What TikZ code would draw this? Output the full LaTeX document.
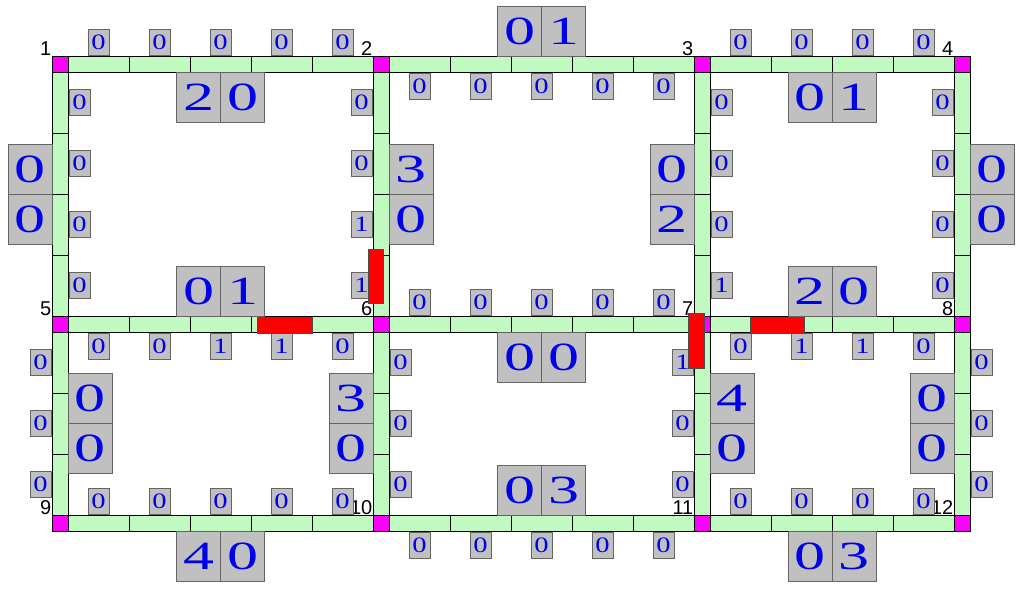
\documentclass[tikz,border=0pt]{standalone}
\usepackage{fontspec}
\usetikzlibrary{positioning}
\newfontfamily\bigdigits[FakeStretch=1.55]{Liberation Serif}
\newfontfamily\smalldigits[FakeStretch=1.3]{Liberation Serif}
\newfontfamily\numfont{Liberation Sans}
\definecolor{edgegreen}{RGB}{192,250,192}
\definecolor{cornermag}{RGB}{255,0,255}
\definecolor{boxgray}{RGB}{192,192,192}
\definecolor{boxedge}{RGB}{100,100,100}
\definecolor{digitblue}{RGB}{0,0,235}
\definecolor{agentred}{RGB}{255,0,0}
\begin{document}
\begin{tikzpicture}[x=1pt,y=-1pt]

    \tikzset{
      corner/.style={
        draw=black,
        fill=cornermag,
        line width=0.5pt,
        minimum size=16pt,
        inner sep=0pt,
        outer sep=0pt,
        label distance=0pt,
      },
      hseg/.style={
        draw=black,
        fill=edgegreen,
        line width=0.8pt,
        minimum width=61pt,
        minimum height=16pt,
        inner sep=0pt,
        outer sep=0pt,
      },
      vseg/.style={
        hseg,
        minimum width=16pt,
        minimum height=61pt,
      },
      lbl/.style={
        draw=boxedge,
        fill=boxgray,
        minimum width=21pt,
        minimum height=26pt,
        inner sep=0pt,
        outer sep=0pt,
        text=digitblue,
        font=\smalldigits\fontsize{22}{22}\selectfont,
      },
      big/.style={
        draw=boxedge,
        fill=boxgray,
        line width=0.8pt,
        minimum width=44pt,
        minimum height=50pt,
        inner sep=0pt,
        outer sep=0pt,
        text=digitblue,
        font=\bigdigits\fontsize{40}{40}\selectfont,
      },
      num/.style={
        font=\numfont\fontsize{20}{20}\selectfont,
        inner sep=0.5pt,
      },
      agent/.style={
        draw=black!70,
        fill=agentred,
        inner sep=0pt,
        outer sep=0pt,
      },
    }
    \useasboundingbox (0,0) rectangle (1023,589);

	\node[corner, label={[num]north west:1}] (n1) at (60,64) {};
	\node[corner, label={[num]north west:2}] (n2) at (381,64) {};
	\node[corner, label={[num]north west:3}] (n3) at (702,64) {};
	\node[corner, label={[num]north west:4}] (n4) at (962,64) {};
	\node[corner, label={[num]north west:5}] (n5) at (60,324) {};
	\node[corner, label={[num]north west:6}] (n6) at (381,324) {};
	\node[corner, label={[num]north west:7}] (n7) at (702,324) {};
	\node[corner, label={[num]north west:8}] (n8) at (962,324) {};
	\node[corner, label={[num]north west:9}] (n9) at (60,523) {};
	\node[corner, label={[num]north west:10}] (n10) at (381,523) {};
	\node[corner, label={[num]north west:11}] (n11) at (702,523) {};
	\node[corner, label={[num]north west:12}] (n12) at (962,523) {};

	% 1 -- 2
	\node[hseg, right=0pt of n1] (s12a) {};
	\node[hseg, right=0pt of s12a] (s12b) {};
	\node[hseg, right=0pt of s12b] (s12c) {};
	\node[hseg, right=0pt of s12c] (s12d) {};
	\node[hseg, right=0pt of s12d] (s12e) {};
	\node[lbl, above=1pt of s12a] (l12a) {0};
	\node[lbl, above=1pt of s12b] (l12b) {0};
	\node[lbl, above=1pt of s12c] (l12c) {0};
	\node[lbl, above=1pt of s12d] (l12d) {0};
	\node[lbl, above=1pt of s12e] (l12e) {0};
	\node[big, anchor=north east] (b12a) at (s12c.south) {2};
	\node[big, anchor=north west] (b12b) at (s12c.south) {0};

	% 2 -- 3
	\node[hseg, right=0pt of n2] (s23a) {};
	\node[hseg, right=0pt of s23a] (s23b) {};
	\node[hseg, right=0pt of s23b] (s23c) {};
	\node[hseg, right=0pt of s23c] (s23d) {};
	\node[hseg, right=0pt of s23d] (s23e) {};
	\node[lbl, below=1pt of s23a] (l23a) {0};
	\node[lbl, below=1pt of s23b] (l23b) {0};
	\node[lbl, below=1pt of s23c] (l23c) {0};
	\node[lbl, below=1pt of s23d] (l23d) {0};
	\node[lbl, below=1pt of s23e] (l23e) {0};
	\node[big, anchor=south east] (b23a) at (s23c.north) {0};
	\node[big, anchor=south west] (b23b) at (s23c.north) {1};

	% 3 -- 4
	\node[hseg, right=0pt of n3] (s34a) {};
	\node[hseg, right=0pt of s34a] (s34b) {};
	\node[hseg, right=0pt of s34b] (s34c) {};
	\node[hseg, right=0pt of s34c] (s34d) {};
	\node[lbl, above=1pt of s34a] (l34a) {0};
	\node[lbl, above=1pt of s34b] (l34b) {0};
	\node[lbl, above=1pt of s34c] (l34c) {0};
	\node[lbl, above=1pt of s34d] (l34d) {0};
	\node[big, anchor=north east] (b34a) at (s34b.south east) {0};
	\node[big, anchor=north west] (b34b) at (s34b.south east) {1};

	% 5 -- 6
	\node[hseg, right=0pt of n5] (s56a) {};
	\node[hseg, right=0pt of s56a] (s56b) {};
	\node[hseg, right=0pt of s56b] (s56c) {};
	\node[hseg, right=0pt of s56c] (s56d) {};
	\node[hseg, right=0pt of s56d] (s56e) {};
	\node[lbl, below=1pt of s56a] (l56a) {0};
	\node[lbl, below=1pt of s56b] (l56b) {0};
	\node[lbl, below=1pt of s56c] (l56c) {1};
	\node[lbl, below=1pt of s56d] (l56d) {1};
	\node[lbl, below=1pt of s56e] (l56e) {0};
	\node[big, anchor=south east] (b56a) at (s56c.north) {0};
	\node[big, anchor=south west] (b56b) at (s56c.north) {1};

	% 6 -- 7
	\node[hseg, right=0pt of n6] (s67a) {};
	\node[hseg, right=0pt of s67a] (s67b) {};
	\node[hseg, right=0pt of s67b] (s67c) {};
	\node[hseg, right=0pt of s67c] (s67d) {};
	\node[hseg, right=0pt of s67d] (s67e) {};
	\node[lbl, above=1pt of s67a] (l67a) {0};
	\node[lbl, above=1pt of s67b] (l67b) {0};
	\node[lbl, above=1pt of s67c] (l67c) {0};
	\node[lbl, above=1pt of s67d] (l67d) {0};
	\node[lbl, above=1pt of s67e] (l67e) {0};
	\node[big, anchor=north east] (b67a) at (s67c.south) {0};
	\node[big, anchor=north west] (b67b) at (s67c.south) {0};

	% 7 -- 8
	\node[hseg, right=0pt of n7] (s78a) {};
	\node[hseg, right=0pt of s78a] (s78b) {};
	\node[hseg, right=0pt of s78b] (s78c) {};
	\node[hseg, right=0pt of s78c] (s78d) {};
	\node[lbl, below=1pt of s78a] (l78a) {0};
	\node[lbl, below=1pt of s78b] (l78b) {1};
	\node[lbl, below=1pt of s78c] (l78c) {1};
	\node[lbl, below=1pt of s78d] (l78d) {0};
	\node[big, anchor=south east] (b78a) at (s78b.north east) {2};
	\node[big, anchor=south west] (b78b) at (s78b.north east) {0};

	% 9 -- 10
	\node[hseg, right=0pt of n9] (s910a) {};
	\node[hseg, right=0pt of s910a] (s910b) {};
	\node[hseg, right=0pt of s910b] (s910c) {};
	\node[hseg, right=0pt of s910c] (s910d) {};
	\node[hseg, right=0pt of s910d] (s910e) {};
	\node[lbl, above=1pt of s910a] (l910a) {0};
	\node[lbl, above=1pt of s910b] (l910b) {0};
	\node[lbl, above=1pt of s910c] (l910c) {0};
	\node[lbl, above=1pt of s910d] (l910d) {0};
	\node[lbl, above=1pt of s910e] (l910e) {0};
	\node[big, anchor=north east] (b910a) at (s910c.south) {4};
	\node[big, anchor=north west] (b910b) at (s910c.south) {0};

	% 10 -- 11
	\node[hseg, right=0pt of n10] (s1011a) {};
	\node[hseg, right=0pt of s1011a] (s1011b) {};
	\node[hseg, right=0pt of s1011b] (s1011c) {};
	\node[hseg, right=0pt of s1011c] (s1011d) {};
	\node[hseg, right=0pt of s1011d] (s1011e) {};
	\node[lbl, below=1pt of s1011a] (l1011a) {0};
	\node[lbl, below=1pt of s1011b] (l1011b) {0};
	\node[lbl, below=1pt of s1011c] (l1011c) {0};
	\node[lbl, below=1pt of s1011d] (l1011d) {0};
	\node[lbl, below=1pt of s1011e] (l1011e) {0};
	\node[big, anchor=south east] (b1011a) at (s1011c.north) {0};
	\node[big, anchor=south west] (b1011b) at (s1011c.north) {3};

	% 11 -- 12
	\node[hseg, right=0pt of n11] (s1112a) {};
	\node[hseg, right=0pt of s1112a] (s1112b) {};
	\node[hseg, right=0pt of s1112b] (s1112c) {};
	\node[hseg, right=0pt of s1112c] (s1112d) {};
	\node[lbl, above=1pt of s1112a] (l1112a) {0};
	\node[lbl, above=1pt of s1112b] (l1112b) {0};
	\node[lbl, above=1pt of s1112c] (l1112c) {0};
	\node[lbl, above=1pt of s1112d] (l1112d) {0};
	\node[big, anchor=north east] (b1112a) at (s1112b.south east) {0};
	\node[big, anchor=north west] (b1112b) at (s1112b.south east) {3};

	% 1 -- 5
	\node[vseg, below=0pt of n1] (s15a) {};
	\node[vseg, below=0pt of s15a] (s15b) {};
	\node[vseg, below=0pt of s15b] (s15c) {};
	\node[vseg, below=0pt of s15c] (s15d) {};
	\node[lbl, right=1pt of s15a] (l15a) {0};
	\node[lbl, right=1pt of s15b] (l15b) {0};
	\node[lbl, right=1pt of s15c] (l15c) {0};
	\node[lbl, right=1pt of s15d] (l15d) {0};
	\node[big, anchor=south east] (b15a) at (s15b.south west) {0};
	\node[big, anchor=north east] (b15b) at (s15b.south west) {0};

	% 2 -- 6
	\node[vseg, below=0pt of n2] (s26a) {};
	\node[vseg, below=0pt of s26a] (s26b) {};
	\node[vseg, below=0pt of s26b] (s26c) {};
	\node[vseg, below=0pt of s26c] (s26d) {};
	\node[lbl, left=1pt of s26a] (l26a) {0};
	\node[lbl, left=1pt of s26b] (l26b) {0};
	\node[lbl, left=1pt of s26c] (l26c) {1};
	\node[lbl, left=1pt of s26d] (l26d) {1};
	\node[big, anchor=south west] (b26a) at (s26b.south east) {3};
	\node[big, anchor=north west] (b26b) at (s26b.south east) {0};

	% 3 -- 7
	\node[vseg, below=0pt of n3] (s37a) {};
	\node[vseg, below=0pt of s37a] (s37b) {};
	\node[vseg, below=0pt of s37b] (s37c) {};
	\node[vseg, below=0pt of s37c] (s37d) {};
	\node[lbl, right=1pt of s37a] (l37a) {0};
	\node[lbl, right=1pt of s37b] (l37b) {0};
	\node[lbl, right=1pt of s37c] (l37c) {0};
	\node[lbl, right=1pt of s37d] (l37d) {1};
	\node[big, anchor=south east] (b37a) at (s37b.south west) {0};
	\node[big, anchor=north east] (b37b) at (s37b.south west) {2};

	% 4 -- 8
	\node[vseg, below=0pt of n4] (s48a) {};
	\node[vseg, below=0pt of s48a] (s48b) {};
	\node[vseg, below=0pt of s48b] (s48c) {};
	\node[vseg, below=0pt of s48c] (s48d) {};
	\node[lbl, left=1pt of s48a] (l48a) {0};
	\node[lbl, left=1pt of s48b] (l48b) {0};
	\node[lbl, left=1pt of s48c] (l48c) {0};
	\node[lbl, left=1pt of s48d] (l48d) {0};
	\node[big, anchor=south west] (b48a) at (s48b.south east) {0};
	\node[big, anchor=north west] (b48b) at (s48b.south east) {0};

	% 5 -- 9
	\node[vseg, below=0pt of n5] (s59a) {};
	\node[vseg, below=0pt of s59a] (s59b) {};
	\node[vseg, below=0pt of s59b] (s59c) {};
	\node[lbl, left=1pt of s59a] (l59a) {0};
	\node[lbl, left=1pt of s59b] (l59b) {0};
	\node[lbl, left=1pt of s59c] (l59c) {0};
	\node[big, anchor=south west] (b59a) at (s59b.east) {0};
	\node[big, anchor=north west] (b59b) at (s59b.east) {0};

	% 6 -- 10
	\node[vseg, below=0pt of n6] (s610a) {};
	\node[vseg, below=0pt of s610a] (s610b) {};
	\node[vseg, below=0pt of s610b] (s610c) {};
	\node[lbl, right=1pt of s610a] (l610a) {0};
	\node[lbl, right=1pt of s610b] (l610b) {0};
	\node[lbl, right=1pt of s610c] (l610c) {0};
	\node[big, anchor=south east] (b610a) at (s610b.west) {3};
	\node[big, anchor=north east] (b610b) at (s610b.west) {0};

	% 7 -- 11
	\node[vseg, below=0pt of n7] (s711a) {};
	\node[vseg, below=0pt of s711a] (s711b) {};
	\node[vseg, below=0pt of s711b] (s711c) {};
	\node[lbl, left=1pt of s711a] (l711a) {1};
	\node[lbl, left=1pt of s711b] (l711b) {0};
	\node[lbl, left=1pt of s711c] (l711c) {0};
	\node[big, anchor=south west] (b711a) at (s711b.east) {4};
	\node[big, anchor=north west] (b711b) at (s711b.east) {0};

	% 8 -- 12
	\node[vseg, below=0pt of n8] (s812a) {};
	\node[vseg, below=0pt of s812a] (s812b) {};
	\node[vseg, below=0pt of s812b] (s812c) {};
	\node[lbl, right=1pt of s812a] (l812a) {0};
	\node[lbl, right=1pt of s812b] (l812b) {0};
	\node[lbl, right=1pt of s812c] (l812c) {0};
	\node[big, anchor=south east] (b812a) at (s812b.west) {0};
	\node[big, anchor=north east] (b812b) at (s812b.west) {0};

	\node[agent, minimum width=15pt, minimum height=54pt] (r1) at (375.5,276) {};
	\node[agent, minimum width=55pt, minimum height=16pt] (r2) at (284.5,325) {};
	\node[agent, minimum width=16pt, minimum height=55pt] (r3) at (696,340.5) {};
	\node[agent, minimum width=54pt, minimum height=16pt] (r4) at (777,325) {};

\end{tikzpicture}
\end{document}
